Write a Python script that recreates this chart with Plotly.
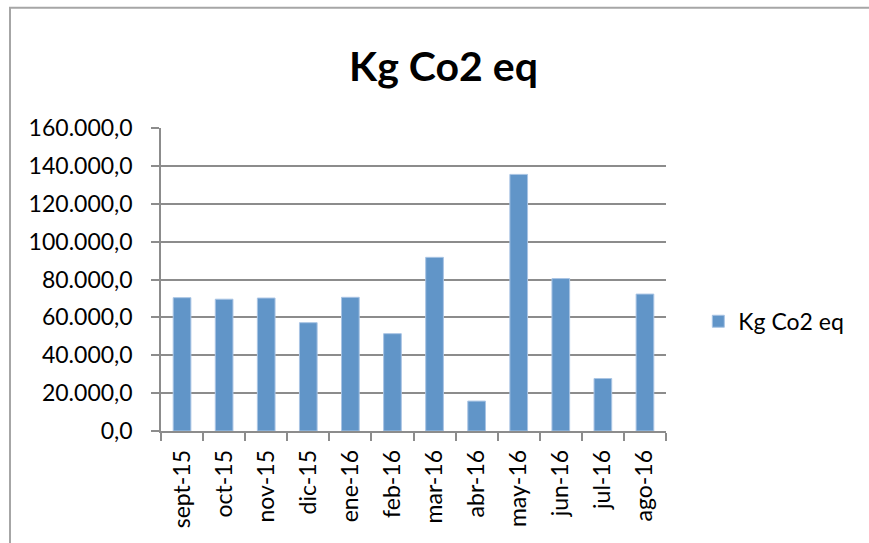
import plotly.graph_objects as go

months = ["sept-15", "oct-15", "nov-15", "dic-15", "ene-16", "feb-16",
          "mar-16", "abr-16", "may-16", "jun-16", "jul-16", "ago-16"]
kg_co2 = [70400, 69600, 70200, 57200, 70600, 51400,
          91700, 15800, 135500, 80500, 27700, 72300]
series_name = "Kg Co2 eq"
title_text = "Kg Co2 eq"

FONT = "Lato, 'Open Sans', 'DejaVu Sans', sans-serif"
GRID = "#8c8c8c"

fig = go.Figure()
fig.add_trace(go.Bar(
    x=months, y=kg_co2, name=series_name,
    marker=dict(color="#6195C8", line=dict(color="#a9c4e4", width=1)),
    showlegend=True,
))

fig.update_layout(
    width=869, height=543,
    margin=dict(l=161, r=203, t=128, b=112),
    paper_bgcolor="white", plot_bgcolor="white",
    separators=",.",
    font=dict(family=FONT, size=23, color="black"),
    bargap=0.58,
    title=dict(text="<b>" + title_text + "</b>", font=dict(family=FONT, size=41, color="black"),
               x=0.5104, xanchor="center", xref="container", y=0.878, yanchor="middle", yref="container"),
    showlegend=True,
    legend=dict(x=1.064, y=0.362, xanchor="left", yanchor="middle",
                font=dict(family=FONT, size=23, color="black"), itemwidth=30,
                bgcolor="rgba(0,0,0,0)"),
    xaxis=dict(showline=True, linecolor=GRID, linewidth=1.5, ticks="outside",
               tickson="boundaries", ticklen=8, tickcolor=GRID, tickwidth=1.5,
               tickangle=-90, showgrid=False, ticklabelstandoff=8),
    yaxis=dict(range=[0, 160000], dtick=20000, tickformat=",.1f",
               showline=True, linecolor=GRID, linewidth=1.5, ticks="outside",
               ticklen=8, tickcolor=GRID, tickwidth=1.5,
               showgrid=True, gridcolor=GRID, gridwidth=1.5, zeroline=False,
               ticklabelstandoff=14),
    shapes=[dict(type="rect", xref="paper", yref="paper",
                 x0=-0.299, x1=1.7, y0=-0.6, y1=1.397,
                 line=dict(color="#a6a6a6", width=2), fillcolor="rgba(0,0,0,0)",
                 layer="below")],
)

fig.write_html("out.html", config={"displayModeBar": False},
               post_script="document.body.style.margin='0';document.body.style.overflow='hidden';")
